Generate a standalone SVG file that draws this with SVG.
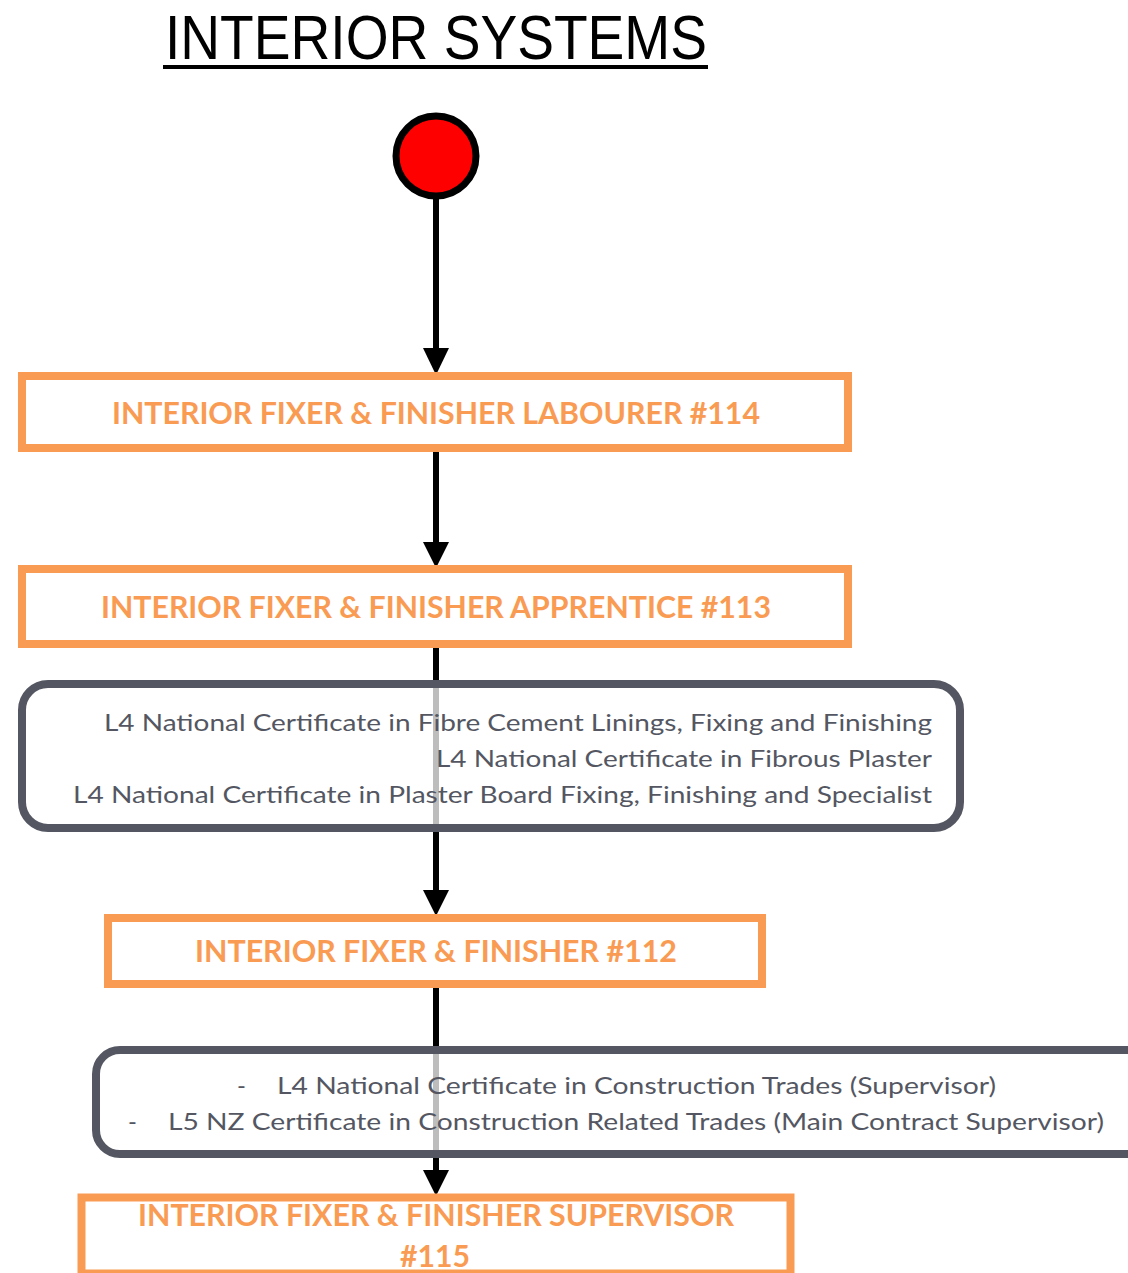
<svg xmlns="http://www.w3.org/2000/svg" width="1128" height="1273" viewBox="0 0 1128 1273">
  <style>
    .title { font-family: "Liberation Sans", Arial, sans-serif; font-size: 63px; fill: #000; }
    .role { fill: #fff; stroke: #F99B52; stroke-width: 8; }
    .role-text { font-family: Lato, "Open Sans", sans-serif; font-weight: bold; font-size: 31px; fill: #F99B52; text-anchor: middle; }
    .quals { fill: #fff; stroke: #545762; stroke-width: 8; }
    .qual-text { font-family: Lato, "Open Sans", sans-serif; font-size: 24px; fill: #545762; }
    .wire { stroke: #000; stroke-width: 6; fill: none; }
    .wire-under { stroke: #BDBDBD; stroke-width: 6; }
    .head { fill: #000; }
  </style>

  <!-- heading -->
  <g id="title">
    <text class="title" x="165" y="59" textLength="542" lengthAdjust="spacingAndGlyphs">INTERIOR SYSTEMS</text>
    <rect x="163" y="65" width="545" height="4" fill="#000"/>
  </g>

  <!-- start point -->
  <g id="start">
    <circle cx="436" cy="156" r="40" fill="#FF0000" stroke="#000" stroke-width="7"/>
  </g>

  <!-- connectors -->
  <g id="connectors">
    <line class="wire" x1="436" y1="199" x2="436" y2="350"/>
    <polygon class="head" points="423,348 449,348 436,375"/>

    <line class="wire" x1="436" y1="452" x2="436" y2="544"/>
    <polygon class="head" points="423,542 449,542 436,568"/>

    <line class="wire" x1="436" y1="648" x2="436" y2="684"/>
    <line class="wire" x1="436" y1="828" x2="436" y2="892"/>
    <polygon class="head" points="423,890 449,890 436,916"/>

    <line class="wire" x1="436" y1="988" x2="436" y2="1050"/>
    <line class="wire" x1="436" y1="1154" x2="436" y2="1172"/>
    <polygon class="head" points="423,1170 449,1170 436,1196"/>
  </g>

  <g id="labourer">
    <rect class="role" x="22" y="376" width="826" height="72"/>
    <text class="role-text" x="436" y="424" textLength="648" lengthAdjust="spacingAndGlyphs">INTERIOR FIXER &amp; FINISHER LABOURER #114</text>
  </g>

  <g id="apprentice">
    <rect class="role" x="22" y="569" width="826" height="75"/>
    <text class="role-text" x="436" y="618" textLength="670" lengthAdjust="spacingAndGlyphs">INTERIOR FIXER &amp; FINISHER APPRENTICE #113</text>
  </g>

  <g id="apprentice-quals">
    <rect class="quals" x="22" y="684" width="938" height="144" rx="26" ry="26"/>
    <line class="wire-under" x1="436" y1="688" x2="436" y2="824"/>
    <text class="qual-text" x="104" y="731" textLength="828" lengthAdjust="spacingAndGlyphs">L4 National Certificate in Fibre Cement Linings, Fixing and Finishing</text>
    <text class="qual-text" x="436" y="767" textLength="496" lengthAdjust="spacingAndGlyphs">L4 National Certificate in Fibrous Plaster</text>
    <text class="qual-text" x="73" y="803" textLength="859" lengthAdjust="spacingAndGlyphs">L4 National Certificate in Plaster Board Fixing, Finishing and Specialist</text>
  </g>

  <g id="fixer-finisher">
    <rect class="role" x="108" y="918" width="654" height="66"/>
    <text class="role-text" x="436" y="962" textLength="482" lengthAdjust="spacingAndGlyphs">INTERIOR FIXER &amp; FINISHER #112</text>
  </g>

  <g id="supervisor-quals">
    <rect class="quals" x="96" y="1050" width="1060" height="104" rx="24" ry="24"/>
    <line class="wire-under" x1="436" y1="1054" x2="436" y2="1150"/>
    <text class="qual-text" x="237" y="1094">-</text>
    <text class="qual-text" x="277" y="1094" textLength="719" lengthAdjust="spacingAndGlyphs">L4 National Certificate in Construction Trades (Supervisor)</text>
    <text class="qual-text" x="128" y="1130">-</text>
    <text class="qual-text" x="168" y="1130" textLength="936" lengthAdjust="spacingAndGlyphs">L5 NZ Certificate in Construction Related Trades (Main Contract Supervisor)</text>
  </g>

  <g id="supervisor">
    <rect class="role" x="81.5" y="1197.5" width="709" height="76" stroke-width="9"/>
    <text class="role-text" x="436" y="1226" textLength="596" lengthAdjust="spacingAndGlyphs">INTERIOR FIXER &amp; FINISHER SUPERVISOR</text>
    <text class="role-text" x="435" y="1267" textLength="70" lengthAdjust="spacingAndGlyphs">#115</text>
  </g>
</svg>
